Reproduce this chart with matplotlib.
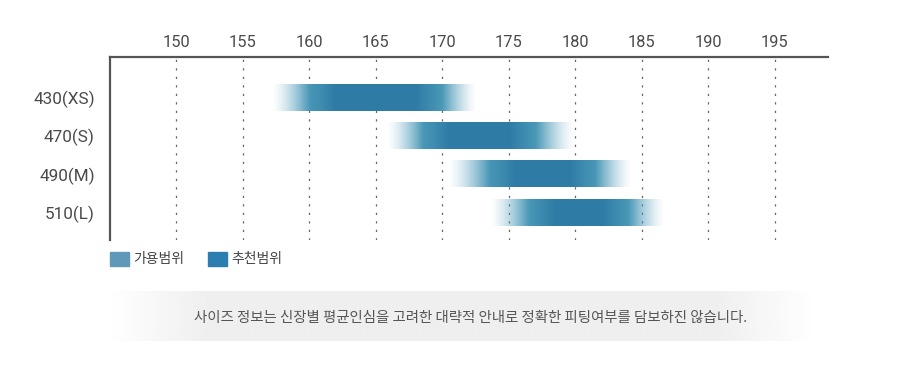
import numpy as np
import matplotlib
matplotlib.use("Agg")
import matplotlib.pyplot as plt
from matplotlib.colors import to_rgb

# ---- data ----
sizes = ["430(XS)", "470(S)", "490(M)", "510(L)"]
avail_low = [157.2, 165.8, 170.4, 173.6]
avail_high = [172.6, 179.9, 184.2, 186.7]
rec_low = [160.0, 168.5, 173.5, 176.5]
rec_high = [170.0, 177.0, 181.5, 184.0]
xticks = [150, 155, 160, 165, 170, 175, 180, 185, 190, 195]
legend_labels = ["가용범위", "추천범위"]
note = "사이즈 정보는 신장별 평균인심을 고려한 대략적 안내로 정확한 피팅여부를 담보하진 않습니다."

light = np.array(to_rgb("#4f9dba"))
dark = np.array(to_rgb("#2e7ca6"))
legend_colors = ["#6099b7", "#2a7fb0"]

W, H = 920, 385
fig = plt.figure(figsize=(W / 100, H / 100), dpi=100)
fig.patch.set_facecolor("white")

ax = fig.add_axes([110 / W, 1 - 240 / H, 718 / W, 183 / H])
ax.set_xlim(145, 199)
ax.set_ylim(3.72, -1.05)

# grid
for t in xticks:
    ax.axvline(t, color="#666666", lw=0.9, dashes=(1.8, 5.0), zorder=1)

# gradient bars
bh = 0.7
for i in range(len(sizes)):
    lo, hi, rl, rh = avail_low[i], avail_high[i], rec_low[i], rec_high[i]
    xs = np.linspace(lo, hi, 500)
    alpha = np.interp(xs, [lo, rl, rh, hi], [0, 1, 1, 0])
    alpha = alpha ** 1.4
    tmix = np.interp(xs, [lo, rl, rl + 2.0, rh - 2.0, rh, hi], [0, 0.15, 1, 1, 0.15, 0])
    cols = light[None, :] * (1 - tmix[:, None]) + dark[None, :] * tmix[:, None]
    img = np.zeros((1, len(xs), 4))
    img[0, :, :3] = cols
    img[0, :, 3] = alpha
    ax.imshow(img, extent=[lo, hi, i + bh / 2, i - bh / 2], aspect="auto",
              interpolation="bilinear", zorder=2)

ax.set_xticks(xticks)
ax.set_xticklabels([str(t) for t in xticks], fontfamily="Roboto",
                   fontsize=11.8, color="#4a4a4a")
ax.xaxis.tick_top()
ax.tick_params(axis="x", length=0, pad=5)
ax.set_yticks(range(len(sizes)))
ax.set_yticklabels(sizes, fontfamily="Roboto", fontsize=12.3, color="#4a4a4a")
ax.tick_params(axis="y", length=0, pad=11)
for s in ["right", "bottom"]:
    ax.spines[s].set_visible(False)
for s in ["top", "left"]:
    ax.spines[s].set_color("#555555")
    ax.spines[s].set_linewidth(1.6)

# legend
lx = [110, 208]
for k in range(2):
    fig.patches.append(plt.Rectangle((lx[k] / W, 1 - 266 / H), 19 / W, 14 / H,
                                     transform=fig.transFigure, color=legend_colors[k]))
    fig.text((lx[k] + 23) / W, 1 - 259 / H, legend_labels[k], fontfamily="Noto Sans CJK KR",
             fontsize=10, color="#444444", va="center", ha="left")

# note box with gradient background
bax = fig.add_axes([112 / W, 1 - 341 / H, 700 / W, 50 / H])
bx = np.linspace(0, 1, 400)
ba = np.interp(bx, [0, 0.14, 0.86, 1], [0, 1, 1, 0])
bimg = np.zeros((1, 400, 4))
bimg[0, :, :3] = to_rgb("#efefef")
bimg[0, :, 3] = ba
bax.imshow(bimg, extent=[0, 1, 0, 1], aspect="auto", interpolation="bilinear")
bax.set_xlim(0, 1)
bax.set_ylim(0, 1)
bax.axis("off")
fig.text(471 / W, 1 - 318 / H, note, fontfamily="Noto Sans CJK KR", fontsize=10.4,
         color="#555555", ha="center", va="center")

fig.savefig("out.png", dpi=100, facecolor="white")
